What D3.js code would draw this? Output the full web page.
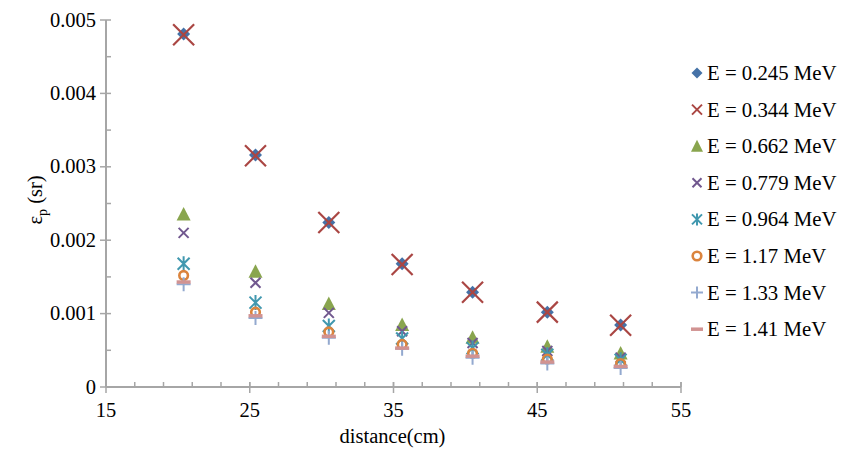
<!DOCTYPE html>
<html>
<head>
<meta charset="utf-8">
<script src="https://cdn.jsdelivr.net/npm/d3@7"></script>
<style>
body { margin:0; background:#fff; }
</style>
</head>
<body>
<svg id="chart" width="841" height="449"></svg>
<script>
const distances = [20.4, 25.4, 30.5, 35.6, 40.5, 45.7, 50.8];
const seriesNames = ["E = 0.245 MeV","E = 0.344 MeV","E = 0.662 MeV","E = 0.779 MeV","E = 0.964 MeV","E = 1.17 MeV","E = 1.33 MeV","E = 1.41 MeV"];
const e0245 = [0.00481, 0.00316, 0.00224, 0.00168, 0.00129, 0.00102, 0.000845];
const e0344 = [0.00480, 0.00315, 0.00224, 0.00167, 0.00129, 0.00102, 0.00084];
const e0662 = [0.00235, 0.00157, 0.00113, 0.000845, 0.00067, 0.00055, 0.000455];
const e0779 = [0.00210, 0.00142, 0.00101, 0.00076, 0.00060, 0.00049, 0.00040];
const e0964 = [0.00168, 0.00115, 0.00083, 0.00066, 0.00053, 0.00044, 0.00037];
const e117  = [0.00152, 0.00102, 0.00075, 0.00058, 0.00046, 0.00038, 0.00032];
const e133  = [0.00140, 0.00094, 0.00067, 0.00052, 0.00040, 0.00032, 0.00026];
const e141  = [0.00143, 0.00097, 0.00069, 0.00053, 0.00042, 0.00034, 0.00028];
const xTicks = [15, 25, 35, 45, 55];
const yTicks = [0, 0.001, 0.002, 0.003, 0.004, 0.005];
const yTickLabels = ["0", "0.001", "0.002", "0.003", "0.004", "0.005"];

const seriesValues = [e0245, e0344, e0662, e0779, e0964, e117, e133, e141];
const colors = ["#4572A7","#AA4643","#89A54E","#71588F","#4198AF","#DB843D","#93A9CF","#D19392"];
const shapes = ["diamond","bigx","triangle","smallx","star","circle","plus","dash"];
const FONT = '"Liberation Serif", "Times New Roman", serif';

const svg = d3.select("#chart");
const L = 106, R = 681, T = 20, B = 387;
const x = d3.scaleLinear().domain([15, 55]).range([L, R]);
const y = d3.scaleLinear().domain([0, 0.005]).range([B, T]);
const axisColor = "#a6a6a6";

function txt(sel, size) { return sel.append("text").style("font-family", FONT).style("font-size", size + "px").attr("fill", "#000"); }

const g = svg.append("g");
g.append("line").attr("x1", L).attr("x2", R).attr("y1", B).attr("y2", B).attr("stroke", axisColor).attr("stroke-width", 2);
g.append("line").attr("x1", L).attr("x2", L).attr("y1", T).attr("y2", B).attr("stroke", axisColor).attr("stroke-width", 2);

d3.range(15, 55.01, 2).forEach(v => {
  if (v === 15) return;
  g.append("line").attr("x1", x(v)).attr("x2", x(v)).attr("y1", B).attr("y2", B - 5).attr("stroke", axisColor).attr("stroke-width", 1.5);
});
xTicks.forEach(v => {
  g.append("line").attr("x1", x(v)).attr("x2", x(v)).attr("y1", B - 5).attr("y2", B + 6).attr("stroke", axisColor).attr("stroke-width", 1.5);
  txt(g, 20.5).attr("x", x(v)).attr("y", B + 30).attr("text-anchor", "middle").text(v);
});
d3.range(0.0005, 0.00501, 0.001).forEach(v => {
  g.append("line").attr("x1", L).attr("x2", L + 5).attr("y1", y(v)).attr("y2", y(v)).attr("stroke", axisColor).attr("stroke-width", 1.5);
});
yTicks.forEach((v, i) => {
  g.append("line").attr("x1", L - 6).attr("x2", L + 5).attr("y1", y(v)).attr("y2", y(v)).attr("stroke", axisColor).attr("stroke-width", 1.5);
  txt(g, 20.5).attr("x", L - 10).attr("y", y(v) + 6.5).attr("text-anchor", "end").text(yTickLabels[i]);
});

txt(svg, 20.5).attr("x", (L + R) / 2 - 1).attr("y", 443).attr("text-anchor", "middle").text("distance(cm)");
const yt = txt(svg, 20.5).attr("transform", "translate(42,200) rotate(-90)").attr("text-anchor", "middle");
yt.append("tspan").text("ε");
yt.append("tspan").attr("dy", 5).style("font-size", "14px").text("p");
yt.append("tspan").attr("dy", -5).text(" (sr)");

function drawMarker(sel, shape, color) {
  switch (shape) {
    case "diamond":
      sel.append("path").attr("d", "M0,-6.5L6.5,0L0,6.5L-6.5,0Z").attr("fill", color);
      break;
    case "bigx":
      sel.append("path").attr("d", "M-10.5,-10.5L10.5,10.5M-10.5,10.5L10.5,-10.5").attr("stroke", color).attr("stroke-width", 2.2).attr("fill", "none");
      break;
    case "triangle":
      sel.append("path").attr("d", "M0,-7.5L7,6L-7,6Z").attr("fill", color);
      break;
    case "smallx":
      sel.append("path").attr("d", "M-5,-5L5,5M-5,5L5,-5").attr("stroke", color).attr("stroke-width", 2).attr("fill", "none");
      break;
    case "star":
      sel.append("path").attr("d", "M-6,-6L6,6M-6,6L6,-6M0,-7.5L0,7.5").attr("stroke", color).attr("stroke-width", 2).attr("fill", "none");
      break;
    case "circle":
      sel.append("circle").attr("r", 4.3).attr("fill", "none").attr("stroke", color).attr("stroke-width", 2.6);
      break;
    case "plus":
      sel.append("path").attr("d", "M-7,0L7,0M0,-7L0,7").attr("stroke", color).attr("stroke-width", 2).attr("fill", "none");
      break;
    case "dash":
      sel.append("path").attr("d", "M-7,0L7,0").attr("stroke", color).attr("stroke-width", 3.5).attr("fill", "none");
      break;
  }
}

seriesValues.forEach((vals, si) => {
  const sg = svg.append("g");
  vals.forEach((v, i) => {
    const m = sg.append("g").attr("transform", `translate(${x(distances[i])},${y(v)})`);
    drawMarker(m, shapes[si], colors[si]);
  });
});

seriesNames.forEach((name, i) => {
  const cy = 73 + i * 36.6;
  const m = svg.append("g").attr("transform", `translate(697,${cy})`);
  const s = shapes[i];
  if (s === "bigx") {
    m.append("path").attr("d", "M-5,-5L5,5M-5,5L5,-5").attr("stroke", colors[i]).attr("stroke-width", 2).attr("fill", "none");
  } else if (s === "star") {
    m.append("path").attr("d", "M-5,-5L5,5M-5,5L5,-5M0,-6L0,6").attr("stroke", colors[i]).attr("stroke-width", 2).attr("fill", "none");
  } else if (s === "triangle") {
    m.append("path").attr("d", "M0,-6.5L6,5.5L-6,5.5Z").attr("fill", colors[i]);
  } else if (s === "diamond") {
    m.append("path").attr("d", "M0,-5.5L5.5,0L0,5.5L-5.5,0Z").attr("fill", colors[i]);
  } else if (s === "smallx") {
    m.append("path").attr("d", "M-4.5,-4.5L4.5,4.5M-4.5,4.5L4.5,-4.5").attr("stroke", colors[i]).attr("stroke-width", 2).attr("fill", "none");
  } else if (s === "plus") {
    m.append("path").attr("d", "M-6,0L6,0M0,-6L0,6").attr("stroke", colors[i]).attr("stroke-width", 2).attr("fill", "none");
  } else if (s === "dash") {
    m.append("path").attr("d", "M-6,0L6,0").attr("stroke", colors[i]).attr("stroke-width", 3.5).attr("fill", "none");
  } else {
    drawMarker(m, s, colors[i]);
  }
  txt(svg, 20.8).attr("x", 707).attr("y", cy + 7).text(name);
});
</script>
</body>
</html>
